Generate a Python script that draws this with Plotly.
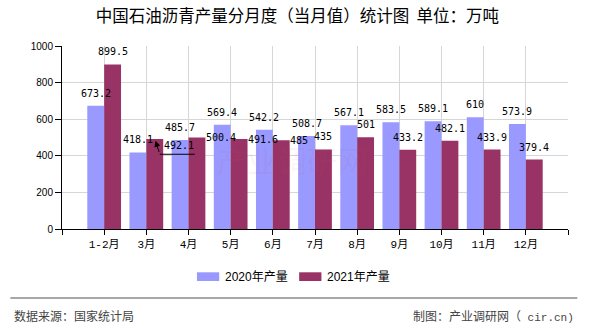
import plotly.graph_objects as go

# Monthly output of petroleum asphalt, 10k tonnes
months = ["1-2月", "3月", "4月", "5月", "6月", "7月", "8月", "9月", "10月", "11月", "12月"]
output_2020 = [673.2, 418.1, 485.7, 569.4, 542.2, 508.7, 567.1, 583.5, 589.1, 610, 573.9]
output_2021 = [899.5, 492.1, 500.4, 491.6, 485, 435, 501, 433.2, 482.1, 433.9, 379.4]
series_names = ["2020年产量", "2021年产量"]
y_ticks = [0, 200, 400, 600, 800, 1000]

COLOR_2020 = "#9999FF"
COLOR_2021 = "#993366"
GRID = "#d6d6d6"
MONO = "DejaVu Sans Mono, Liberation Mono, monospace"
CJK = "Liberation Sans, Noto Sans CJK SC, sans-serif"

x_pos = list(range(len(months)))

fig = go.Figure()
fig.add_trace(go.Bar(x=x_pos, y=output_2020, name=series_names[0],
                     marker=dict(color=COLOR_2020, line=dict(width=0))))
fig.add_trace(go.Bar(x=x_pos, y=output_2021, name=series_names[1],
                     marker=dict(color=COLOR_2021, line=dict(width=0))))

annotations = []
label_font = dict(family=MONO, size=10, color="black")

# value labels above the 2020 bars
for i, v in enumerate(output_2020):
    annotations.append(dict(x=i - 0.2, y=v, xref="x", yref="y", text=f"{v:g}",
                            showarrow=False, font=label_font,
                            xanchor="center", yanchor="middle", yshift=12.5))

# value labels for the 2021 bars; a few are moved aside to avoid overlaps
beside = {2, 3, 4}
for i, v in enumerate(output_2021):
    if i == 1:
        continue
    if i in beside:
        annotations.append(dict(x=i + 0.2, y=v, xref="x", yref="y", text=f"{v:g}",
                                showarrow=False, font=label_font,
                                xanchor="left", yanchor="middle", xshift=7, yshift=0))
    else:
        annotations.append(dict(x=i + 0.2, y=v, xref="x", yref="y", text=f"{v:g}",
                                showarrow=False, font=label_font,
                                xanchor="center", yanchor="middle", yshift=12.5))

# callout for March 2021
annotations.append(dict(x=1.2, y=output_2021[1], xref="x", yref="y", text=f"{output_2021[1]:g}",
                        showarrow=False, font=label_font,
                        xanchor="left", yanchor="middle", xshift=7, yshift=-7))
annotations.append(dict(x=1.2, y=output_2021[1], xref="x", yref="y", text=" ",
                        font=dict(size=1), showarrow=True, arrowhead=2, arrowsize=1.2,
                        arrowwidth=1, arrowcolor="black", ax=5, ay=15, standoff=2))

shapes = [
    dict(type="line", xref="x", yref="y", xsizemode="pixel", ysizemode="pixel",
         xanchor=1.2, yanchor=output_2021[1], x0=5, x1=40, y0=-15.3, y1=-15.3,
         line=dict(color="black", width=1)),
]

# watermark
annotations.append(dict(x=0.455, y=0.38, xref="paper", yref="paper", text="产业调研网",
                        showarrow=False, font=dict(family="Noto Sans CJK SC", size=30,
                                                    color="rgba(210,70,70,0.07)")))

# custom legend
legend_items = [(series_names[0], COLOR_2020, 0.2667), (series_names[1], COLOR_2021, 0.4687)]
for name, color, x0 in legend_items:
    shapes.append(dict(type="rect", xref="paper", yref="paper",
                       x0=x0, x1=x0 + 0.044, y0=-0.2842, y1=-0.2366,
                       fillcolor=color, line=dict(width=0)))
    annotations.append(dict(x=x0 + 0.052, y=-0.2604, xref="paper", yref="paper", text=name,
                            showarrow=False, xanchor="left", yanchor="middle",
                            font=dict(family=CJK, size=12, color="black")))

# footer
shapes.append(dict(type="line", xref="paper", yref="paper", x0=-0.102, x1=1.0184,
                   y0=-0.3775, y1=-0.3775, line=dict(color="#8a8a8a", width=1.5)))
annotations.append(dict(x=-0.0982, y=-0.475, xref="paper", yref="paper", text="数据来源：国家统计局",
                        showarrow=False, xanchor="left", yanchor="middle",
                        font=dict(family="Noto Sans CJK SC", size=12, color="#444")))
annotations.append(dict(x=1.0164, y=-0.475, xref="paper", yref="paper",
                        text="制图：产业调研网（<span style='font-family:Liberation Mono;font-size:11px'> cir.cn)</span>",
                        showarrow=False, xanchor="right", yanchor="middle",
                        font=dict(family="Noto Sans CJK SC", size=12, color="#444")))

fig.update_layout(
    width=590, height=330,
    margin=dict(l=62, r=22, t=46, b=101, autoexpand=False),
    paper_bgcolor="white", plot_bgcolor="white",
    barmode="group", bargap=0.2, bargroupgap=0,
    showlegend=False,
    title=dict(text="中国石油沥青产量分月度（当月值）统计图  单位：万吨",
               x=0.504, xanchor="center", y=1 - 16 / 330, yanchor="middle",
               yref="container", font=dict(family="Noto Sans CJK SC", size=16.5, color="black")),
    xaxis=dict(range=[-1, 11], tickmode="array", tickvals=list(range(-1, 12)),
               ticktext=[""] + months + [""], ticks="outside", ticklen=5, tickcolor="black",
               showline=True, linecolor="black", linewidth=1,
               showgrid=True, gridcolor=GRID, gridwidth=1, zeroline=False,
               tickfont=dict(family="Liberation Mono, Noto Sans CJK SC", size=11, color="black")),
    yaxis=dict(range=[0, 1000], tickmode="array", tickvals=y_ticks,
               ticktext=[str(t) for t in y_ticks], ticks="outside", ticklen=6, tickcolor="black",
               showline=True, linecolor="black", linewidth=1,
               showgrid=True, gridcolor=GRID, gridwidth=1, zeroline=False,
               tickfont=dict(family="Liberation Sans, Arial", size=10, color="black")),
    annotations=annotations,
    shapes=shapes,
)

fig.write_html("out.html")
